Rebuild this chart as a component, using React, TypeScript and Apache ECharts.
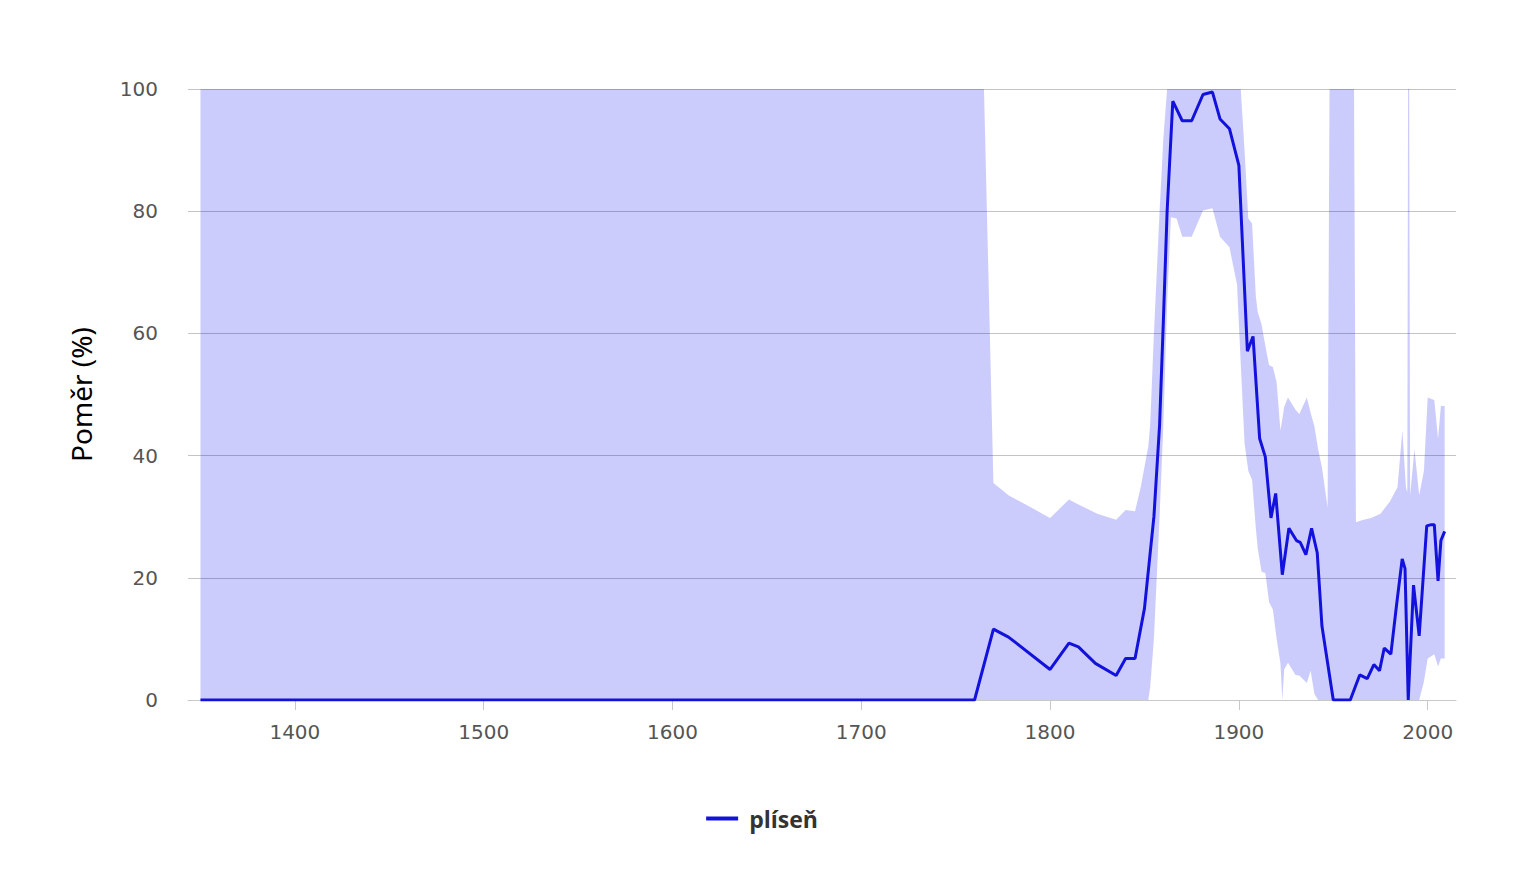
import React, { useEffect, useRef } from "react";
import * as echarts from "echarts";

// x-axis tick labels
const xTicks = [1400, 1500, 1600, 1700, 1800, 1900, 2000];

// main series: plíseň (%)
const lineYears = [
  1350, 1760, 1770, 1778, 1800, 1810, 1815, 1824, 1835, 1840, 1845, 1850, 1855, 1858, 1860, 1862, 1865,
  1870, 1875, 1881, 1886, 1890, 1895, 1900, 1904.5, 1907.5, 1911, 1914, 1917, 1919.5, 1923, 1926.5,
  1930.5, 1932.5, 1935.5, 1938.5, 1941.5, 1944, 1950, 1959, 1964, 1968, 1971.5, 1974.5, 1977, 1980.5,
  1983.5, 1986.5, 1988, 1989.7, 1992.5, 1995.5, 1999.5, 2002, 2003.5, 2005.5, 2007, 2009,
];
const lineValues = [
  0, 0, 11.6, 10.3, 5, 9.3, 8.7, 6, 4, 6.8, 6.8, 15, 30, 45, 62, 80, 98,
  94.8, 94.8, 99.1, 99.5, 95.1, 93.5, 87.5, 57.1, 59.5, 42.8, 39.8, 29.8, 33.8, 20.5, 28.1,
  26.1, 25.8, 23.8, 28.1, 24.1, 12.1, 0, 0, 4.1, 3.5, 5.8, 4.8, 8.5, 7.5,
  15.5, 23.1, 21.5, 0, 18.8, 10.5, 28.5, 28.7, 28.7, 19.5, 26.1, 27.6,
];

// confidence band
const bandYears = [
  1350, 1765, 1770, 1778, 1790, 1800, 1810, 1815, 1825, 1835, 1840, 1845, 1848, 1852, 1853, 1855, 1858,
  1860, 1862, 1864, 1867, 1870, 1875, 1881, 1886, 1890, 1895, 1899, 1901, 1903, 1905, 1907, 1909, 1910,
  1912, 1914, 1916, 1918, 1920, 1922, 1923, 1924, 1926, 1930, 1932, 1936, 1938, 1940, 1942, 1944, 1947,
  1948, 1961, 1962, 1966, 1970, 1975, 1980, 1984, 1986.6, 1988.5, 1989.2, 1989.6, 1990.2, 1990.7, 1993,
  1995.5, 1998, 2000, 2003.5, 2005.5, 2007, 2009,
];
const bandLow = [
  0, 0, 0, 0, 0, 0, 0, 0, 0, 0, 0, 0, 0, 0, 2, 10, 30,
  45, 65, 79, 78.8, 75.8, 75.8, 80.1, 80.5, 75.8, 74.1, 68, 55, 42, 37.5, 36, 28, 24.8,
  21, 20.8, 16, 14.8, 10, 6, 0, 5, 6.1, 4.1, 4, 2.8, 4.8, 1, 0, 0, 0,
  0, 0, 0, 0, 0, 0, 0, 0, 0, 0, 0, 0, 0, 0, 0,
  0, 3, 6.8, 7.5, 5.5, 6.8, 6.8,
];
const bandHigh = [
  100, 100, 35.5, 33.5, 31.5, 29.8, 32.8, 32, 30.5, 29.5, 31.1, 30.9, 34.8, 41.5, 45, 60, 80,
  92, 100, 100, 100, 100, 100, 100, 100, 100, 100, 100, 100, 90, 78.8, 78, 66, 63.5,
  61.5, 58, 54.8, 54.5, 52, 44.1, 46, 48, 49.5, 47.5, 46.8, 49.5, 47, 44.8, 41, 38.1, 31.5,
  100, 100, 29.1, 29.5, 29.8, 30.5, 32.5, 34.8, 44.1, 34.8, 34, 100, 100, 33.5, 41.1,
  33.5, 37.5, 49.5, 49.1, 42.8, 48.1, 48.1,
];

export default function App() {
  const ref = useRef<HTMLDivElement>(null);
  useEffect(() => {
    if (!ref.current) return;
    const chart = echarts.init(ref.current, null, { renderer: "svg" });
    const mainData = lineYears.map((y, i) => [y, lineValues[i]]);
    chart.setOption({
      animation: false,
      backgroundColor: "#ffffff",
      grid: { left: 188, right: 68, top: 89, bottom: 183, containLabel: false },
      legend: {
        data: ["plíseň"],
        left: "center",
        top: 802,
        icon: "rect",
        itemWidth: 32,
        itemHeight: 4,
        itemGap: 12,
        textStyle: {
          fontFamily: "Open Sans",
          fontWeight: "bold",
          fontSize: 23,
          color: "#333333",
          padding: [0, 0, 0, 6],
        },
      },
      xAxis: {
        type: "value",
        min: 1343.4,
        max: 2015,
        axisLine: { show: true, lineStyle: { color: "#c8c8c8", width: 1 } },
        axisTick: { show: true, customValues: xTicks, length: 10, lineStyle: { color: "#c8c8c8" } },
        axisLabel: {
          customValues: xTicks,
          formatter: (v: number) => String(v),
          margin: 22,
          fontFamily: "DejaVu Sans",
          fontSize: 20,
          color: "#555555",
        },
        splitLine: { show: false },
      },
      yAxis: {
        type: "value",
        min: 0,
        max: 100,
        interval: 20,
        name: "Poměr (%)",
        nameLocation: "middle",
        nameGap: 93,
        nameRotate: 90,
        nameTextStyle: { fontFamily: "Noto Sans", fontSize: 28, color: "#000000" },
        axisLine: { show: false },
        axisTick: { show: false },
        axisLabel: { margin: 30, fontFamily: "DejaVu Sans", fontSize: 20, color: "#555555" },
        splitLine: { show: true, lineStyle: { color: "#c4c4c4", width: 1 } },
      },
      series: [
        {
          name: "band",
          type: "custom",
          data: [[bandYears[0], bandLow[0]]],
          encode: { x: 0, y: 1 },
          silent: true,
          z: 1,
          renderItem: (_params: any, api: any) => {
            const upper = bandYears.map((y, i) => api.coord([y, bandHigh[i]]));
            const lower = bandYears.map((y, i) => api.coord([y, bandLow[i]])).reverse();
            return {
              type: "polygon",
              shape: { points: upper.concat(lower) },
              style: { fill: "rgba(0,0,240,0.2)", stroke: "none" },
            };
          },
        },
        {
          name: "plíseň",
          type: "line",
          data: mainData,
          symbol: "none",
          color: "#1212dc",
          lineStyle: { color: "#1212dc", width: 3 },
          z: 3,
        },
      ],
    });
    return () => chart.dispose();
  }, []);
  return (
    <div
      ref={ref}
      style={{ position: "fixed", left: 0, top: 0, width: 1524, height: 883, background: "#fff" }}
    />
  );
}
